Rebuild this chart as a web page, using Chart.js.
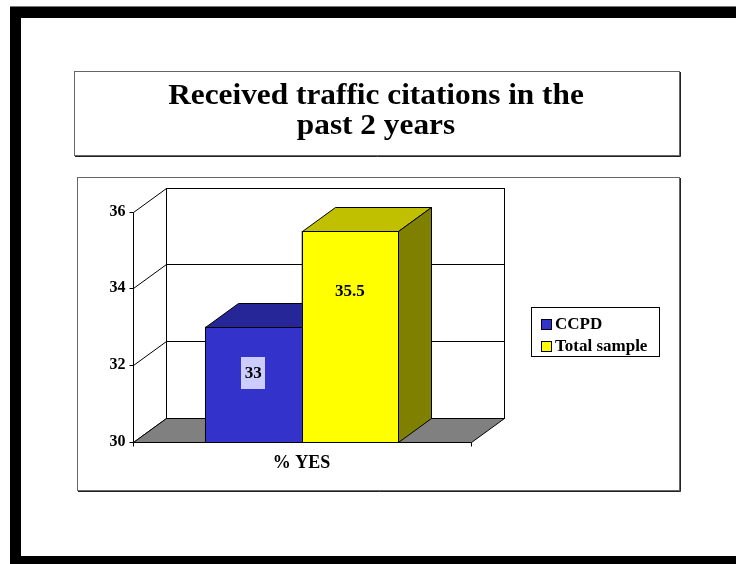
<!DOCTYPE html>
<html>
<head>
<meta charset="utf-8">
<script src="https://cdn.jsdelivr.net/npm/chart.js@4/dist/chart.umd.min.js"></script>
<style>
html,body{margin:0;padding:0;background:#fff;}
#wrap{width:736px;height:564px;position:relative;}
canvas{display:block;}
</style>
</head>
<body>
<div id="wrap"><canvas id="c" width="736" height="564"></canvas></div>
<script>
// ---- data ----
const categories = ['% YES'];
const seriesNames = ['CCPD', 'Total sample'];
const ccpdValues = [33];
const totalSampleValues = [35.5];
const yTicks = [30, 32, 34, 36];
const titleLines = ['Received traffic citations in the', 'past 2 years'];

// ---- style ----
const SERIF = '"Liberation Serif","Times New Roman",Times,serif';
const DX = 33, DY = 24;          // 3D depth offset
const faceColors = [
  {front: '#3333CC', top: '#262699', side: '#1A1A66'},
  {front: '#FFFF00', top: '#C0C000', side: '#808000'}
];
const labelOffsets = [46, 60];
const labelBg = ['#CCCCFF', null];

function stretchText(ctx, text, x, y, font, sx, align) {
  ctx.save();
  ctx.font = font;
  ctx.textAlign = align || 'center';
  ctx.translate(x, y);
  ctx.scale(sx, 1);
  ctx.fillText(text, 0, 0);
  ctx.restore();
}

function boxWithShadow(ctx, x1, y1, x2, y2) {
  ctx.save();
  ctx.fillStyle = '#fff';
  ctx.fillRect(x1, y1, x2 - x1, y2 - y1);
  ctx.lineWidth = 1;
  ctx.strokeStyle = '#666';
  ctx.strokeRect(x1 + 0.5, y1 + 0.5, x2 - x1, y2 - y1);
  ctx.strokeStyle = '#222';
  ctx.beginPath();
  ctx.moveTo(x2 + 1.5, y1 + 1); ctx.lineTo(x2 + 1.5, y2 + 1.5); ctx.lineTo(x1 + 1, y2 + 1.5);
  ctx.stroke();
  ctx.restore();
}

const threeD = {
  id: 'threeD',
  beforeDraw(chart) {
    const ctx = chart.ctx;
    ctx.save();
    ctx.fillStyle = '#fff';
    ctx.fillRect(0, 0, chart.width, chart.height);
    // slide frame
    ctx.fillStyle = '#777';
    ctx.fillRect(10, 6, chart.width - 10, 1);
    ctx.fillStyle = '#000';
    ctx.fillRect(10, 7, chart.width - 10, 11);
    ctx.fillRect(10, 7, 11, chart.height - 7);
    ctx.fillRect(10, 556, chart.width - 10, 8);
    // title box
    boxWithShadow(ctx, 74, 71, 679, 155);
    ctx.fillStyle = '#000';
    ctx.textBaseline = 'alphabetic';
    stretchText(ctx, titleLines[0], 376, 103.5, 'bold 29px ' + SERIF, 1.08);
    stretchText(ctx, titleLines[1], 376, 133.5, 'bold 29px ' + SERIF, 1.08);
    // chart box
    boxWithShadow(ctx, 77, 177, 679, 490);
    ctx.restore();
  },
  beforeDatasetsDraw(chart) {
    const ctx = chart.ctx;
    const ys = chart.scales.y;
    const a = chart.chartArea;
    const L = Math.round(a.left) + 0.5, R = Math.round(a.right) + 0.5;
    const T = Math.round(a.top) + 0.5, B = Math.round(a.bottom) + 0.5;
    ctx.save();
    ctx.lineWidth = 1;
    ctx.strokeStyle = '#000';
    // back wall
    ctx.fillStyle = '#fff';
    ctx.fillRect(L + DX, T - DY, R - L, B - T);
    ctx.strokeRect(L + DX, T - DY, R - L, B - T);
    // gridlines on back wall + side diagonals + y ticks
    ys.ticks.forEach(t => {
      const y = Math.round(ys.getPixelForValue(t.value)) + 0.5;
      ctx.beginPath();
      ctx.moveTo(L + DX, y - DY); ctx.lineTo(R + DX, y - DY);
      ctx.moveTo(L, y); ctx.lineTo(L + DX, y - DY);
      ctx.moveTo(L - 4, y); ctx.lineTo(L, y);
      ctx.stroke();
    });
    // front vertical axis
    ctx.beginPath();
    ctx.moveTo(L, T); ctx.lineTo(L, B);
    ctx.stroke();
    // floor
    ctx.fillStyle = '#808080';
    ctx.beginPath();
    ctx.moveTo(L, B); ctx.lineTo(R, B); ctx.lineTo(R + DX, B - DY); ctx.lineTo(L + DX, B - DY); ctx.closePath();
    ctx.fill(); ctx.stroke();
    // x axis ticks
    ctx.beginPath();
    ctx.moveTo(L, B); ctx.lineTo(L, B + 4);
    ctx.moveTo(R, B); ctx.lineTo(R, B + 4);
    ctx.stroke();
    ctx.restore();
  },
  afterDatasetsDraw(chart) {
    const ctx = chart.ctx;
    ctx.save();
    ctx.lineWidth = 1;
    ctx.strokeStyle = '#000';
    const bars = [];
    chart.data.datasets.forEach((ds, i) => {
      chart.getDatasetMeta(i).data.forEach((el, j) => bars.push({el, i, v: ds.data[j]}));
    });
    bars.sort((p, q) => p.el.x - q.el.x);
    bars.forEach(({el, i}) => {
      const c = faceColors[i];
      const l = Math.round(el.x - el.width / 2) + 0.5;
      const r = Math.round(el.x + el.width / 2) + 0.5;
      const t = Math.round(el.y) + 0.5;
      const b = Math.round(el.base) + 0.5;
      // top face
      ctx.fillStyle = c.top;
      ctx.beginPath();
      ctx.moveTo(l, t); ctx.lineTo(r, t); ctx.lineTo(r + DX, t - DY); ctx.lineTo(l + DX, t - DY); ctx.closePath();
      ctx.fill(); ctx.stroke();
      // side face
      ctx.fillStyle = c.side;
      ctx.beginPath();
      ctx.moveTo(r, t); ctx.lineTo(r + DX, t - DY); ctx.lineTo(r + DX, b - DY); ctx.lineTo(r, b); ctx.closePath();
      ctx.fill(); ctx.stroke();
      // front face
      ctx.fillStyle = c.front;
      ctx.fillRect(l, t, r - l, b - t);
      ctx.strokeRect(l, t, r - l, b - t);
    });
    // data labels
    bars.forEach(({el, i, v}) => {
      const cx = el.x, cy = el.y + labelOffsets[i];
      if (labelBg[i]) {
        ctx.fillStyle = labelBg[i];
        ctx.fillRect(Math.round(cx - 12), Math.round(cy - 16), 24, 32);
      }
      ctx.fillStyle = '#000';
      ctx.font = 'bold 17px ' + SERIF;
      ctx.textAlign = 'center';
      ctx.textBaseline = 'middle';
      ctx.fillText(String(v), cx, cy + 1);
    });
    ctx.restore();
  },
  afterDraw(chart) {
    const ctx = chart.ctx;
    ctx.save();
    // legend
    const lx1 = 531, ly1 = 307, lx2 = 659, ly2 = 356;
    ctx.fillStyle = '#fff';
    ctx.fillRect(lx1, ly1, lx2 - lx1, ly2 - ly1);
    ctx.lineWidth = 1;
    ctx.strokeStyle = '#000';
    ctx.strokeRect(lx1 + 0.5, ly1 + 0.5, lx2 - lx1, ly2 - ly1);
    chart.data.datasets.forEach((ds, i) => {
      const y = 319 + i * 21.5;
      ctx.fillStyle = ds.backgroundColor;
      ctx.fillRect(541.5, Math.round(y) + 0.5, 10, 10);
      ctx.strokeRect(541.5, Math.round(y) + 0.5, 10, 10);
      ctx.fillStyle = '#000';
      ctx.font = 'bold 17px ' + SERIF;
      ctx.textAlign = 'left';
      ctx.textBaseline = 'middle';
      ctx.fillText(ds.label, 555, y + 6);
    });
    ctx.restore();
  }
};

const tickFont = {family: SERIF, size: 16, weight: 'bold'};

new Chart(document.getElementById('c'), {
  type: 'bar',
  data: {
    labels: categories,
    datasets: [
      {label: seriesNames[0], data: ccpdValues, backgroundColor: faceColors[0].front, borderColor: '#000', borderWidth: 1, borderSkipped: false, base: yTicks[0]},
      {label: seriesNames[1], data: totalSampleValues, backgroundColor: faceColors[1].front, borderColor: '#000', borderWidth: 1, borderSkipped: false, base: yTicks[0]}
    ]
  },
  options: {
    responsive: false,
    animation: false,
    devicePixelRatio: 1,
    layout: {padding: {left: 92.5, right: 736 - 470.5, top: 211.5, bottom: 564 - 441.5 - 40}},
    datasets: {bar: {categoryPercentage: 0.572, barPercentage: 1}},
    plugins: {legend: {display: false}, title: {display: false}, tooltip: {enabled: false}},
    scales: {
      x: {
        grid: {display: false, drawTicks: false},
        border: {display: false},
        ticks: {font: {family: SERIF, size: 18, weight: 'bold'}, color: '#000', padding: 11},
        afterFit: s => { s.height = 40; }
      },
      y: {
        min: yTicks[0], max: yTicks[yTicks.length - 1],
        afterBuildTicks: s => { s.ticks = yTicks.map(v => ({value: v})); },
        grid: {display: false, drawTicks: false},
        border: {display: false},
        ticks: {font: tickFont, color: '#000', padding: 7},
        afterFit: s => { s.width = 40; }
      }
    }
  },
  plugins: [threeD]
});
</script>
</body>
</html>
